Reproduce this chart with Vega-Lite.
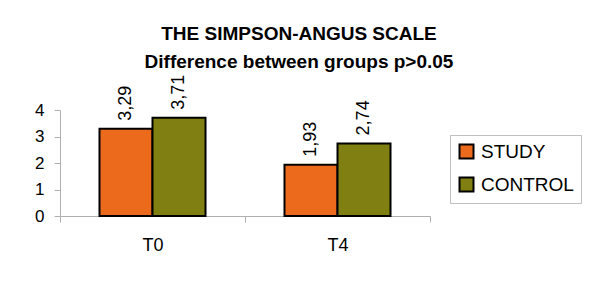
{
  "$schema": "https://vega.github.io/schema/vega-lite/v6.json",
  "width": 370,
  "height": 106,
  "padding": {"left": 60, "top": 110, "right": 170, "bottom": 71},
  "autosize": {"type": "none"},
  "background": "white",
  "title": {
    "text": "THE SIMPSON-ANGUS SCALE",
    "subtitle": "Difference between groups p>0.05",
    "anchor": "middle",
    "frame": "group",
    "dx": 54,
    "offset": 3,
    "font": "Liberation Sans",
    "fontSize": 19,
    "fontWeight": "bold",
    "color": "black",
    "subtitleFont": "Liberation Sans",
    "subtitleFontSize": 19,
    "subtitleFontWeight": "bold",
    "subtitleColor": "black",
    "subtitlePadding": 9
  },
  "data": {
    "values": [
      {"time": "T0", "group": "STUDY", "value": 3.29},
      {"time": "T0", "group": "CONTROL", "value": 3.71},
      {"time": "T4", "group": "STUDY", "value": 1.93},
      {"time": "T4", "group": "CONTROL", "value": 2.74}
    ]
  },
  "encoding": {
    "x": {
      "field": "time",
      "type": "nominal",
      "scale": {"paddingInner": 0, "paddingOuter": 0},
      "axis": {
        "title": null,
        "labelAngle": 0,
        "tickBand": "extent",
        "domainColor": "#b0b0b0",
        "tickColor": "#b0b0b0",
        "tickSize": 6,
        "labelPadding": 14,
        "labelFont": "Liberation Sans",
        "labelFontSize": 18,
        "labelColor": "black"
      }
    },
    "xOffset": {
      "field": "group",
      "sort": ["STUDY", "CONTROL"],
      "scale": {"paddingInner": 0, "paddingOuter": 0.745}
    },
    "y": {
      "field": "value",
      "type": "quantitative",
      "scale": {"domain": [0, 4], "nice": false},
      "axis": {
        "title": null,
        "values": [0, 1, 2, 3, 4],
        "grid": false,
        "domainColor": "#b0b0b0",
        "tickColor": "#b0b0b0",
        "tickSize": 6,
        "labelPadding": 10,
        "labelFont": "Liberation Sans",
        "labelFontSize": 17,
        "labelColor": "black"
      }
    }
  },
  "layer": [
    {
      "mark": {"type": "bar", "stroke": "black", "strokeWidth": 2, "opacity": 1},
      "encoding": {
        "color": {
          "field": "group",
          "type": "nominal",
          "sort": ["STUDY", "CONTROL"],
          "scale": {"domain": ["STUDY", "CONTROL"], "range": ["#EC6A1C", "#7F7F12"]},
          "legend": {
            "title": null,
            "orient": "none",
            "legendX": 390,
            "legendY": 25,
            "symbolType": "square",
            "symbolSize": 196,
            "symbolStrokeColor": "black",
            "symbolStrokeWidth": 2,
            "labelFont": "Liberation Sans",
            "labelFontSize": 19,
            "labelColor": "black",
            "labelOffset": 5,
            "rowPadding": 10,
            "strokeColor": "#c0c0c0",
            "padding": 7
          }
        }
      }
    },
    {
      "mark": {
        "type": "text",
        "angle": 270,
        "align": "left",
        "baseline": "middle",
        "dx": 8,
        "font": "Liberation Sans",
        "fontSize": 18,
        "color": "black"
      },
      "encoding": {
        "text": {"field": "value", "type": "quantitative", "format": ".2f"}
      }
    }
  ],
  "config": {
    "view": {"stroke": null},
    "locale": {"number": {"decimal": ",", "thousands": ".", "grouping": [3], "currency": ["", "€"]}}
  }
}
